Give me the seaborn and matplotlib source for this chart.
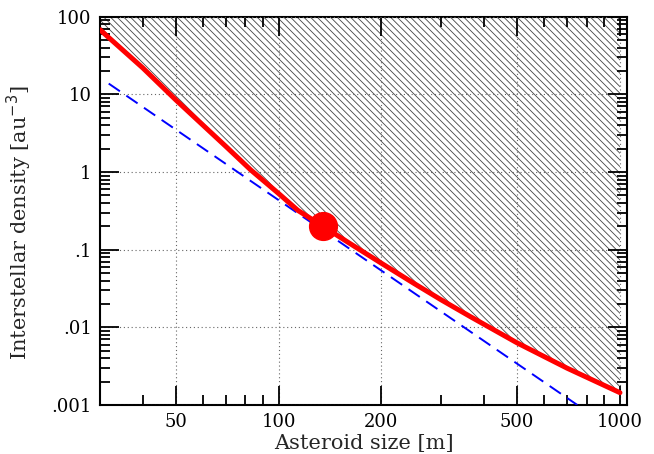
import numpy as np
import matplotlib
matplotlib.use("Agg")
import matplotlib.pyplot as plt
import seaborn as sns
from matplotlib.ticker import FixedLocator, FixedFormatter, NullFormatter, LogLocator

sns.set_style("ticks")
plt.rcParams["font.family"] = ["DejaVu Serif"]
plt.rcParams["hatch.linewidth"] = 0.6
plt.rcParams["hatch.color"] = "#444444"

# red limit curve (size in m, density in au^-3)
red_size = [30, 40, 50, 70, 83, 100, 114, 136, 160, 200, 250, 300, 365, 500, 700, 1000]
red_density = [68, 22, 8.5, 2.15, 1.06, 0.53, 0.32, 0.196, 0.124, 0.067,
               0.0365, 0.0225, 0.0137, 0.0063, 0.00298, 0.00144]

# blue dashed reference line
blue_size = [31.8, 750]
blue_density = [13.8, 0.001]

# measured point
dot_size = [135]
dot_density = [0.2]

x_ticks = [50, 100, 200, 500, 1000]
x_labels = ["50", "100", "200", "500", "1000"]
x_minor = [40, 60, 70, 80, 90, 300, 400, 600, 700, 800, 900]
y_ticks = [0.001, 0.01, 0.1, 1, 10, 100]
y_labels = [".001", ".01", ".1", "1", "10", "100"]

fig = plt.figure(figsize=(6.54, 4.54), dpi=100)
ax = fig.add_axes([0.153, 0.108, 0.806, 0.855])
ax.set_xscale("log")
ax.set_yscale("log")
ax.set_xlim(30, 1050)
ax.set_ylim(0.001, 100)

ax.fill_between(red_size, red_density, 100, facecolor="none",
                edgecolor="#444444", hatch="\\" * 5, linewidth=0, zorder=1)

sns.lineplot(x=blue_size, y=blue_density, ax=ax, color="blue",
             linewidth=1.4, zorder=3)
ax.lines[-1].set_dashes([7, 4])
sns.lineplot(x=red_size, y=red_density, ax=ax, color="red",
             linewidth=3.6, zorder=4)
ax.plot(dot_size, dot_density, "o", color="red", markersize=20, zorder=5)

ax.xaxis.set_major_locator(FixedLocator(x_ticks))
ax.xaxis.set_major_formatter(FixedFormatter(x_labels))
ax.xaxis.set_minor_locator(FixedLocator(x_minor))
ax.xaxis.set_minor_formatter(NullFormatter())
ax.yaxis.set_major_locator(FixedLocator(y_ticks))
ax.yaxis.set_major_formatter(FixedFormatter(y_labels))
ax.yaxis.set_minor_locator(LogLocator(base=10, subs=np.arange(2, 10)))
ax.yaxis.set_minor_formatter(NullFormatter())

ax.tick_params(which="both", direction="in", top=True, right=True,
               width=1.3, colors="black", labelsize=13)
ax.tick_params(which="major", length=14, pad=6)
ax.tick_params(which="minor", length=7.5)
for s in ax.spines.values():
    s.set_linewidth(1.5)
    s.set_color("black")

ax.grid(True, which="major", linestyle=(0, (1, 2.5)), color="#666666", linewidth=0.8)
ax.set_axisbelow(False)

ax.set_xlabel("Asteroid size [m]", fontsize=15, labelpad=2)
ax.set_ylabel("Interstellar density [au$^{-3}$]", fontsize=15)
ax.yaxis.set_label_coords(-0.125, 0.47)

fig.savefig("out.png", dpi=100)
